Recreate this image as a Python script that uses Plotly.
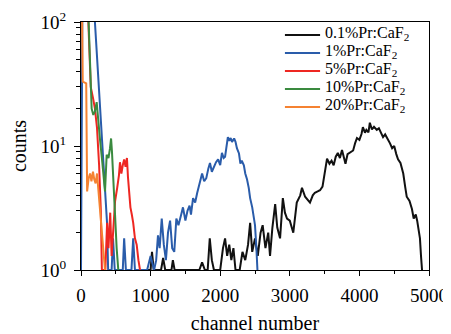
import plotly.graph_objects as go

# ---------------- data ----------------
labels = ["0.1%Pr:CaF<sub>2</sub>", "1%Pr:CaF<sub>2</sub>", "5%Pr:CaF<sub>2</sub>",
          "10%Pr:CaF<sub>2</sub>", "20%Pr:CaF<sub>2</sub>"]
colors = ["#111111", "#2a5caa", "#ee2722", "#3a8a3f", "#f58231"]

black_x = [900, 1000, 1020, 1045, 1150, 1180, 1210, 1300, 1320, 1345, 1700, 1740, 1780, 1820,
           1850, 1880, 1910, 2000, 2040, 2070, 2100, 2130, 2160, 2190, 2220, 2280, 2320, 2360,
           2400, 2430, 2460, 2500, 2540, 2580, 2610, 2650, 2690, 2716, 2750, 2790, 2820, 2860,
           2900, 2930, 2960, 3000, 3050, 3100, 3150, 3175, 3220, 3260, 3290, 3330, 3360, 3400,
           3434, 3470, 3500, 3535, 3570, 3600, 3630, 3660, 3690, 3720, 3750, 3780, 3800, 3830,
           3870, 3910, 3940, 3965, 4000, 4030, 4050, 4080, 4100, 4130, 4150, 4180, 4210, 4250,
           4280, 4310, 4340, 4370, 4400, 4440, 4470, 4500, 4530, 4555, 4590, 4630, 4660, 4680,
           4720, 4755, 4780, 4810, 4830, 4850, 4870, 4885, 4900]
black_y = [1, 1, 1.4, 1, 1, 1.25, 1, 1, 1.2, 1, 1, 1.15, 1, 1,
           1.8, 1.2, 1, 1, 1.5, 1.8, 1.3, 1.6, 1.2, 1.5, 1, 1, 1.4, 1.2,
           1.6, 2.4, 1.4, 1.8, 1.3, 2.0, 2.3, 1.5, 2.0, 1.3, 2.2, 3.4, 2.2, 1.8,
           3.8, 2.9, 2.6, 2.5, 2.0, 3.5, 4.0, 4.6, 3.9, 3.7, 3.5, 4.0, 4.2, 4.3,
           4.4, 4.7, 6.0, 7.9, 7.2, 7.6, 7.0, 8.2, 8.8, 8.0, 9.3, 7.8, 7.2, 8.6,
           8.9, 9.2, 10.6, 11.6, 11.2, 12.5, 14.2, 12.8, 13.5, 12.9, 15.4, 13.6, 14.3, 13.5,
           13.9, 12.6, 11.8, 12.4, 11.6, 10.5, 9.6, 10.0, 8.6, 7.8, 7.3, 6.0, 4.6, 3.9,
           3.6, 3.1, 2.6, 2.8, 2.5, 2.0, 1.8, 1.3, 1.0]

blue_x = [0, 8, 15, 25, 200, 250, 290, 316, 345, 374, 390, 440, 460, 485, 600, 620, 645, 725,
          750, 775, 860, 950, 1000, 1050, 1080, 1106, 1130, 1160, 1190, 1220, 1250, 1280, 1310,
          1340, 1370, 1400, 1440, 1465, 1500, 1530, 1560, 1580, 1610, 1640, 1670, 1700, 1740,
          1770, 1800, 1830, 1853, 1880, 1910, 1940, 1970, 2000, 2025, 2050, 2070, 2090, 2110,
          2130, 2150, 2170, 2200, 2220, 2240, 2270, 2290, 2310, 2340, 2360, 2385, 2410, 2430,
          2460, 2480, 2500, 2520, 2535]
blue_y = [1, 30, 12, 500, 100, 35, 15, 8, 4.2, 2.4, 1, 1, 1.8, 1, 1, 1.8, 1, 1,
          1.8, 1, 1, 1, 1.3, 1, 1.2, 1.9, 1.5, 2.6, 1.6, 1.2, 2.0, 2.5, 1.5,
          1.4, 2.6, 2.3, 2.8, 3.2, 2.5, 3.0, 3.3, 2.8, 3.8, 3.5, 4.2, 5.0, 6.0,
          5.2, 5.5, 6.6, 7.3, 6.2, 6.8, 7.4, 7.8, 7.0, 8.8, 8.0, 8.2, 10.4, 11.8,
          11.0, 11.6, 10.8, 11.5, 10.8, 9.6, 8.7, 7.2, 7.6, 7.0, 6.0, 5.4, 4.6, 3.8,
          3.2, 2.8, 2.3, 1.5, 1.0]

red_x = [60, 100, 140, 175, 200, 230, 260, 285, 300, 350, 375, 395, 420, 440, 465, 490, 520,
         545, 560, 580, 600, 620, 640, 660, 675, 690, 710, 730, 750, 775, 800, 825, 848]
red_y = [500, 120, 30, 24, 20, 14, 7, 3, 1, 1, 2.4, 1.5, 2.9, 1.3, 2.2, 3.6, 4.6,
         5.8, 7.4, 6.0, 7.0, 7.8, 6.8, 8.0, 5.6, 4.0, 3.2, 2.8, 2.4, 1.8, 1.6, 1.2, 1.0]

green_x = [80, 110, 130, 153, 177, 200, 225, 250, 275, 300, 320, 345, 369, 395, 417, 432, 445,
           465, 489, 512, 536]
green_y = [300, 100, 35, 20, 17.8, 19, 22.6, 14.8, 11, 8, 6.2, 4.3, 8.5, 8.0, 9.6, 11.5, 9.0,
           5.8, 2.8, 1.5, 1.0]

orange_x = [5, 25, 75, 88, 110, 130, 150, 172, 190, 210, 230, 244, 260, 275, 300, 320, 345]
orange_y = [400, 33, 32, 4.3, 5.5, 6.0, 5.2, 6.2, 5.4, 5.0, 6.0, 4.8, 3.6, 2.9, 2.0, 1.4, 1.0]

x_ticks = [0, 1000, 2000, 3000, 4000, 5000]
y_ticks = [1, 10, 100]
y_ticktext = ["10<sup>0</sup>", "10<sup>1</sup>", "10<sup>2</sup>"]
y_minor = [2, 3, 4, 5, 6, 7, 8, 9, 20, 30, 40, 50, 60, 70, 80, 90]

series = [(black_x, black_y), (blue_x, blue_y), (red_x, red_y), (green_x, green_y),
          (orange_x, orange_y)]

FONT = "Liberation Serif, Times New Roman, serif"

fig = go.Figure()
for (xs, ys), name, col in zip(series, labels, colors):
    fig.add_trace(go.Scatter(x=xs, y=ys, mode="lines", name=name,
                             line=dict(color=col, width=2), showlegend=False))

# legend drawn as shapes + text annotations (compact rows like the reference)
leg_rows = [0.9476, 0.875, 0.8024, 0.7298, 0.6573]
for name, col, yy in zip(labels, colors, leg_rows):
    fig.add_shape(type="line", xref="paper", yref="paper", x0=0.586, x1=0.687, y0=yy, y1=yy,
                  line=dict(color=col, width=2))
    fig.add_annotation(xref="paper", yref="paper", x=0.694, y=yy + 0.006, text=name,
                       showarrow=False, xanchor="left", yanchor="middle",
                       font=dict(family=FONT, size=16, color="black"))

# the page body adds an 8px offset, so the figure is 8px smaller than the window
fig.update_layout(
    width=443, height=326,
    margin=dict(l=73, r=22, t=14, b=64, autoexpand=False),
    plot_bgcolor="white", paper_bgcolor="white",
    font=dict(family=FONT, size=18, color="black"),
    showlegend=False,
)
fig.update_xaxes(
    range=[0, 5000], tickmode="array", tickvals=x_ticks, automargin=False,
    ticks="outside", ticklen=5, tickwidth=1, tickcolor="black", ticklabelstandoff=3,
    minor=dict(tickmode="linear", tick0=0, dtick=500, ticks="outside", ticklen=3, tickcolor="black"),
    showline=True, linecolor="black", linewidth=1, mirror=True,
    showgrid=False, zeroline=False,
    tickfont=dict(family=FONT, size=19),
    title=dict(text="channel number", font=dict(family=FONT, size=20), standoff=25),
)
fig.update_yaxes(
    type="log", range=[0, 2], tickmode="array", tickvals=y_ticks, ticktext=y_ticktext,
    automargin=False,
    ticks="outside", ticklen=6, tickwidth=1, tickcolor="black", ticklabelstandoff=4,
    minor=dict(tickmode="array", tickvals=y_minor, ticks="outside", ticklen=4, tickcolor="black"),
    showline=True, linecolor="black", linewidth=1, mirror=True,
    showgrid=False, zeroline=False,
    tickfont=dict(family=FONT, size=19),
    title=dict(text="counts", font=dict(family=FONT, size=20), standoff=16),
)

fig.write_html("out.html")
